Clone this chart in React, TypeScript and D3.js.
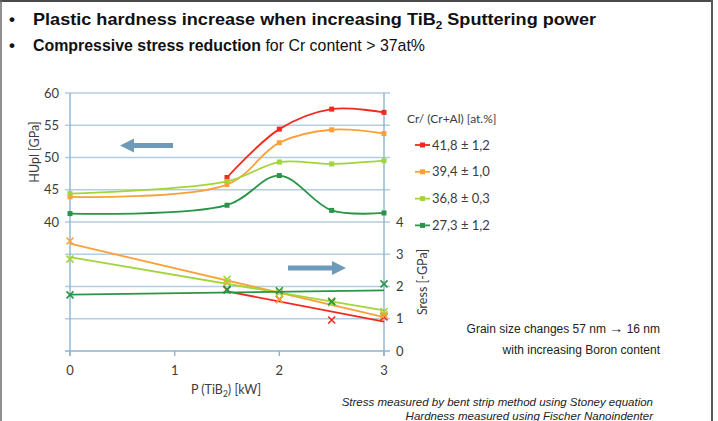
import React from "react";
import * as d3 from "d3";

// ---- data ----
const powerAll = [0, 1.5, 2, 2.5, 3];
const powerRed = [1.5, 2, 2.5, 3];
const seriesNames = ["41,8 ± 1,2", "39,4 ± 1,0", "36,8 ± 0,3", "27,3 ± 1,2"];
const seriesColors = ["#f5281e", "#fca13a", "#a3d43c", "#2a9447"];
const hardnessRed = [46.9, 54.4, 57.5, 57.0];
const hardnessOrange = [43.9, 45.8, 52.3, 54.3, 53.7];
const hardnessLight = [44.4, 46.3, 49.3, 49.0, 49.5];
const hardnessDark = [41.3, 42.6, 47.2, 41.8, 41.4];
const stressRed = [1.89, 1.6, 0.96, 1.06];
const stressOrange = [3.41, 2.12, 1.6, 1.55, 1.12];
const stressLight = [2.85, 2.22, 1.8, 1.5, 1.22];
const stressDark = [1.74, 1.91, 1.87, 1.53, 2.08];
const xTicks = [0, 1, 2, 3];
const leftTicks = [40, 45, 50, 55, 60];
const rightTicks = [0, 1, 2, 3, 4];
const gridValues = [20, 25, 30, 35, 40, 45, 50, 55, 60];

const FONT = "Lato, 'Open Sans', sans-serif";
const SANS = "'Liberation Sans', Arial, sans-serif";

function regression(xs: number[], ys: number[]) {
  const mx = d3.mean(xs) as number;
  const my = d3.mean(ys) as number;
  let num = 0, den = 0;
  xs.forEach((x, i) => { num += (x - mx) * (ys[i] - my); den += (x - mx) * (x - mx); });
  const slope = num / den;
  const x0 = d3.min(xs) as number, x1 = d3.max(xs) as number;
  return [[x0, my + slope * (x0 - mx)], [x1, my + slope * (x1 - mx)]];
}

export default function App() {
  const x = d3.scaleLinear().domain([0, 3]).range([70, 384]);
  const yL = d3.scaleLinear().domain([20, 60]).range([351, 93]);
  const yR = d3.scaleLinear().domain([0, 8]).range([351, 93]);

  const hard = [
    { xs: powerRed, ys: hardnessRed },
    { xs: powerAll, ys: hardnessOrange },
    { xs: powerAll, ys: hardnessLight },
    { xs: powerAll, ys: hardnessDark },
  ];
  const stress = [
    { xs: powerRed, ys: stressRed },
    { xs: powerAll, ys: stressOrange },
    { xs: powerAll, ys: stressLight },
    { xs: powerAll, ys: stressDark },
  ];

  const curve = d3.line<number[]>().x(d => x(d[0])).y(d => yL(d[1])).curve(d3.curveCatmullRom.alpha(0.5));
  const straight = d3.line<number[]>().x(d => x(d[0])).y(d => yR(d[1]));

  const grid = "#b4cde0";
  const axis = "#8fb3cf";
  const txt = "#3c3c3c";

  return (
    <svg width={718} height={421} style={{ position: "absolute", left: 0, top: 0, background: "#fff" }}>
      {/* frame */}
      <line x1={0} x2={713} y1={1} y2={1} stroke="#4a4a4a" strokeWidth={2} />
      <line x1={1} x2={1} y1={0} y2={421} stroke="#6a6a6a" strokeWidth={1.5} />
      <line x1={712} x2={712} y1={0} y2={421} stroke="#5a5a5a" strokeWidth={2} />

      {/* title bullets */}
      <text x={9} y={25} fontFamily={SANS} fontSize={17} fontWeight="bold" fill="#111">•</text>
      <text x={9} y={51} fontFamily={SANS} fontSize={17} fontWeight="bold" fill="#111">•</text>
      <text x={33} y={25} fontFamily={SANS} fontSize={17} fontWeight="bold" fill="#111" textLength={563} lengthAdjust="spacingAndGlyphs">
        Plastic hardness increase when increasing TiB<tspan fontSize={11} dy={4}>2</tspan><tspan dy={-4}> Sputtering power</tspan>
      </text>
      <text x={33} y={51} fontFamily={SANS} fontSize={17} fill="#111" textLength={392} lengthAdjust="spacingAndGlyphs">
        <tspan fontWeight="bold">Compressive stress reduction</tspan> for Cr content &gt; 37at%
      </text>

      {/* grid */}
      {gridValues.map(v => (
        <line key={v} x1={65} x2={390} y1={yL(v)} y2={yL(v)} stroke={v === 20 ? axis : grid} strokeWidth={1.6} />
      ))}
      <line x1={x(0)} x2={x(0)} y1={yL(60)} y2={yL(20) + 5} stroke={axis} strokeWidth={1.4} />
      <line x1={x(3)} x2={x(3)} y1={yL(60)} y2={yL(20) + 5} stroke={axis} strokeWidth={1.4} />
      {xTicks.map(t => (
        <line key={t} x1={x(t)} x2={x(t)} y1={yL(20)} y2={yL(20) + 5} stroke={axis} strokeWidth={1.4} />
      ))}

      {/* tick labels */}
      {leftTicks.map(t => (
        <text key={t} x={59} y={yL(t) + 4.5} textAnchor="end" fontFamily={FONT} fontSize={13} fill={txt}>{t}</text>
      ))}
      {rightTicks.map(t => (
        <text key={t} x={396} y={yR(t) + 4.5} fontFamily={FONT} fontSize={13} fill={txt}>{t}</text>
      ))}
      {xTicks.map(t => (
        <text key={t} x={x(t)} y={375} textAnchor="middle" fontFamily={FONT} fontSize={13} fill={txt}>{t}</text>
      ))}

      {/* axis titles */}
      <text transform={`translate(39,152) rotate(-90)`} textAnchor="middle" fontFamily={FONT} fontSize={12.5} fill={txt}>HUpl [GPa]</text>
      <text transform={`translate(427,282) rotate(-90)`} textAnchor="middle" fontFamily={FONT} fontSize={12.5} fill={txt}>Sress [-GPa]</text>
      <text x={226} y={394} textAnchor="middle" fontFamily={FONT} fontSize={12.5} fill={txt}>
        P (TiB<tspan fontSize={8.5} dy={3}>2</tspan><tspan dy={-3}>) [kW]</tspan>
      </text>

      {/* arrows */}
      <g fill="#6e9ab9" stroke="none">
        <rect x={130} y={143} width={43} height={5} />
        <path d="M120,145.5 L134,138.5 L134,152.5 Z" />
        <rect x={288} y={265.5} width={45} height={5} />
        <path d="M346,268 L332,261 L332,275 Z" />
      </g>

      {/* stress trendlines and markers */}
      {stress.map((s, i) => (
        <g key={"s" + i}>
          <path d={straight(regression(s.xs, s.ys)) as string} fill="none" stroke={seriesColors[i]} strokeWidth={1.8} />
          {s.xs.map((xv, j) => {
            const cx = x(xv), cy = yR(s.ys[j]);
            return (
              <path key={j} d={`M${cx - 3.5},${cy - 3.5}L${cx + 3.5},${cy + 3.5}M${cx - 3.5},${cy + 3.5}L${cx + 3.5},${cy - 3.5}`} stroke={seriesColors[i]} strokeWidth={1.6} />
            );
          })}
        </g>
      ))}

      {/* hardness curves */}
      {hard.map((s, i) => {
        const pts = s.xs.map((xv, j) => [xv, s.ys[j]]);
        return (
          <g key={"h" + i}>
            <path d={curve(pts) as string} fill="none" stroke={seriesColors[i]} strokeWidth={1.8} />
            {pts.map((p, j) => (
              <rect key={j} x={x(p[0]) - 2.5} y={yL(p[1]) - 2.5} width={5} height={5} fill={seriesColors[i]} />
            ))}
          </g>
        );
      })}

      {/* legend */}
      <text x={407} y={123} fontFamily={FONT} fontSize={12} fill={txt}>Cr/ (Cr+Al) [at.%]</text>
      {seriesNames.map((n, i) => {
        const cy = 145 + i * 26.8;
        return (
          <g key={n}>
            <line x1={415} x2={430} y1={cy} y2={cy} stroke={seriesColors[i]} strokeWidth={1.8} />
            <rect x={420} y={cy - 2.5} width={5} height={5} fill={seriesColors[i]} />
            <text x={432} y={cy + 4.5} fontFamily={FONT} fontSize={13} fill={txt}>{n}</text>
          </g>
        );
      })}

      {/* notes */}
      <text x={660} y={333} textAnchor="end" fontFamily={SANS} fontSize={12} fill="#222">
        Grain size changes  57 nm <tspan fontWeight="bold" fontSize={14}>→</tspan> 16 nm
      </text>
      <text x={660} y={354} textAnchor="end" fontFamily={SANS} fontSize={12} fill="#222">with increasing Boron content</text>
      <text x={653} y={406} textAnchor="end" fontFamily={SANS} fontSize={11.5} fontStyle="italic" fill="#222">Stress measured by bent strip method using Stoney equation</text>
      <text x={653} y={420} textAnchor="end" fontFamily={SANS} fontSize={11.5} fontStyle="italic" fill="#222">Hardness measured using Fischer Nanoindenter</text>
    </svg>
  );
}
